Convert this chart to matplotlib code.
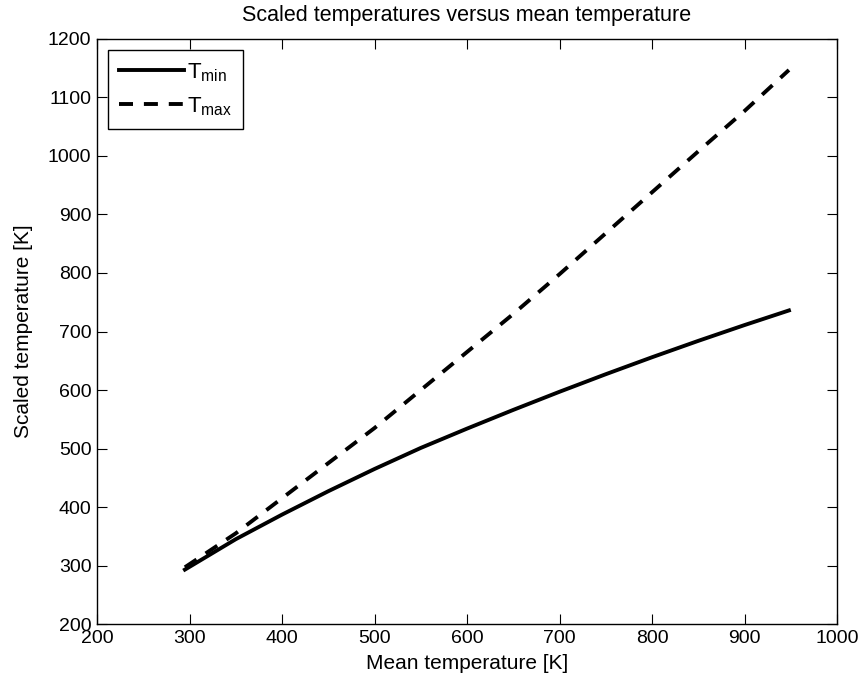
import numpy as np
import matplotlib
matplotlib.use("Agg")
import matplotlib.pyplot as plt

plt.rcParams['font.family'] = ['Liberation Sans', 'DejaVu Sans']
plt.rcParams['mathtext.fontset'] = 'custom'
plt.rcParams['mathtext.rm'] = 'Liberation Sans'

# mean temperature [K]
t_mean = [295, 350, 400, 450, 500, 550, 600, 650, 700, 750, 800, 850, 900, 948]
# scaled temperatures [K]
t_min = [293, 345, 387, 427, 465, 501, 534, 566, 597, 627, 656, 684, 711, 736]
t_max = [297, 355, 415, 475, 535, 600, 665, 730, 798, 868, 938, 1008, 1077, 1147]

fig = plt.figure(figsize=(8.64, 6.84), dpi=100)
ax = fig.add_axes([0.1123, 0.0877, 0.8565, 0.8553])

ax.plot(t_mean, t_min, color='black', lw=2.8, solid_joinstyle='round', label=r'$\mathregular{T_{min}}$')
ax.plot(t_mean, t_max, color='black', lw=2.8, linestyle=(0, (3.6, 2.8)), label=r'$\mathregular{T_{max}}$')

ax.set_xlim(200, 1000)
ax.set_ylim(200, 1200)
ax.set_xticks(np.arange(200, 1001, 100))
ax.set_yticks(np.arange(200, 1201, 100))
ax.tick_params(direction='in', top=True, right=True, length=7, labelsize=14, width=0.8, pad=4)
for s in ax.spines.values():
    s.set_linewidth(1.0)

ax.set_xlabel('Mean temperature [K]', fontsize=15, labelpad=5)
ax.set_ylabel('Scaled temperature [K]', fontsize=15, labelpad=11)
ax.set_title('Scaled temperatures versus mean temperature', fontsize=15.5, pad=13)

leg = ax.legend(loc='upper left', fontsize=16, handlelength=2.9, fancybox=False,
                edgecolor='black', framealpha=1, borderaxespad=0.5, labelspacing=0.5,
                handletextpad=0.15, borderpad=0.5)
leg.get_frame().set_linewidth(1.0)

fig.savefig('out.png', dpi=100)
